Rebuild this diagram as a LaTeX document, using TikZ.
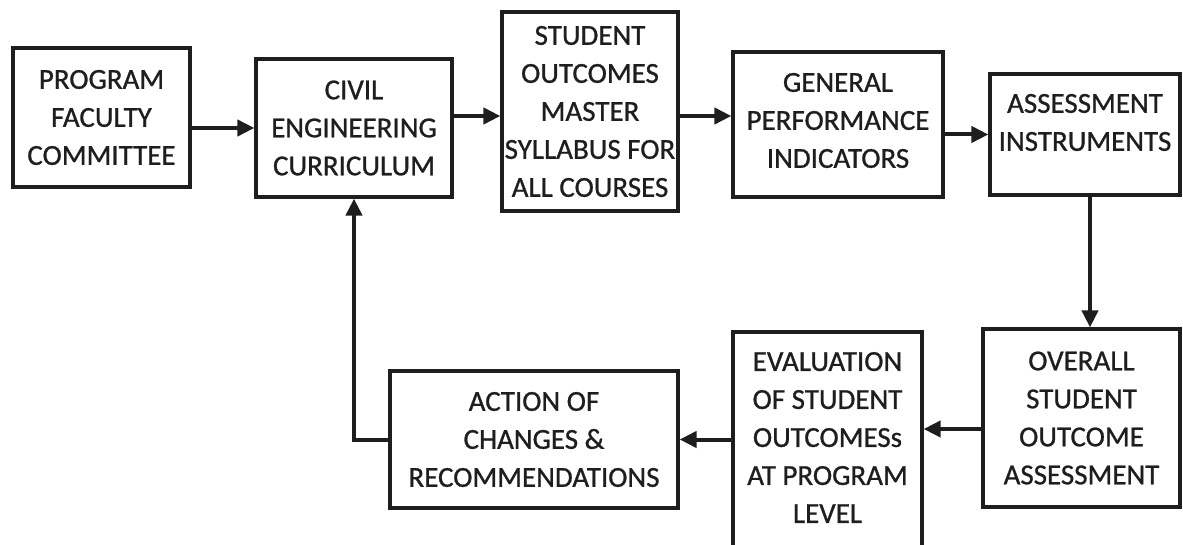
\documentclass[tikz,border=0pt]{standalone}
\usepackage{fontspec}
\setmainfont{Carlito}[FakeBold=0.9]
\usetikzlibrary{arrows.meta}
\definecolor{ink}{HTML}{1E1E1E}
\begin{document}
\begin{tikzpicture}[x=1pt,y=-1pt,
  box/.style={draw=ink, line width=3.2pt, rectangle, inner sep=0pt,
    align=center, text=ink, font=\fontsize{29}{38}\selectfont},
  lbl/.style={text=ink, align=center, font=\fontsize{29}{38}\selectfont},
  arr/.style={draw=ink, line width=4pt,
    -{Triangle[length=17pt,width=16pt]}},
]
\clip (0,0) rectangle (1183,545);

% top row
\node[box, minimum width=177pt, minimum height=139pt] (prog) at (101.5,117.5)
  {PROGRAM\\FACULTY\\COMMITTEE};
\node[box, minimum width=196pt, minimum height=138pt] (civil) at (354,128)
  {CIVIL\\ENGINEERING\\CURRICULUM};
\node[box, minimum width=176pt, minimum height=199pt] (student) at (590,111.5)
  {STUDENT\\OUTCOMES\\MASTER\\SYLLABUS FOR\\ALL COURSES};
\node[box, minimum width=210pt, minimum height=145pt,
  label={[lbl, yshift=4pt]center:{GENERAL\\PERFORMANCE\\INDICATORS}}] (general) at (838,124.5) {};
\node[box, minimum width=190pt, minimum height=121pt,
  label={[lbl, yshift=12pt]center:{ASSESSMENT\\INSTRUMENTS}}] (assess) at (1085,134.5) {};

% bottom row
\node[box, minimum width=197pt, minimum height=178pt] (overall) at (1081.5,418)
  {OVERALL\\STUDENT\\OUTCOME\\ASSESSMENT};
\node[box, minimum width=189pt, minimum height=268pt,
  label={[lbl, yshift=28.5pt]center:{EVALUATION\\OF STUDENT\\OUTCOMESs\\AT PROGRAM\\LEVEL}}] (eval) at (827.5,466) {};
\node[box, minimum width=288pt, minimum height=137pt] (action) at (534,439.5)
  {ACTION OF\\CHANGES \&\\RECOMMENDATIONS};

% connectors
\draw[arr] (prog.east |- civil.west) -- (civil.west);
\path ([yshift=12pt]civil.east) coordinate (c1);
\draw[arr] (c1) -- (c1 -| student.west);
\path ([yshift=-4.5pt]student.east) coordinate (c2);
\draw[arr] (c2) -- (c2 -| general.west);
\draw[arr] (assess.west -| general.east) -- (assess.west);
\path ([xshift=5pt]assess.south) coordinate (c3);
\draw[arr] (c3) -- (c3 |- overall.north);
\path ([yshift=-11pt]overall.west) coordinate (c4);
\draw[arr] (c4) -- (c4 -| eval.east);
\draw[arr] (action.east -| eval.west) -- (action.east);
\draw[arr] (action.west) -| (civil.south);
\end{tikzpicture}
\end{document}
